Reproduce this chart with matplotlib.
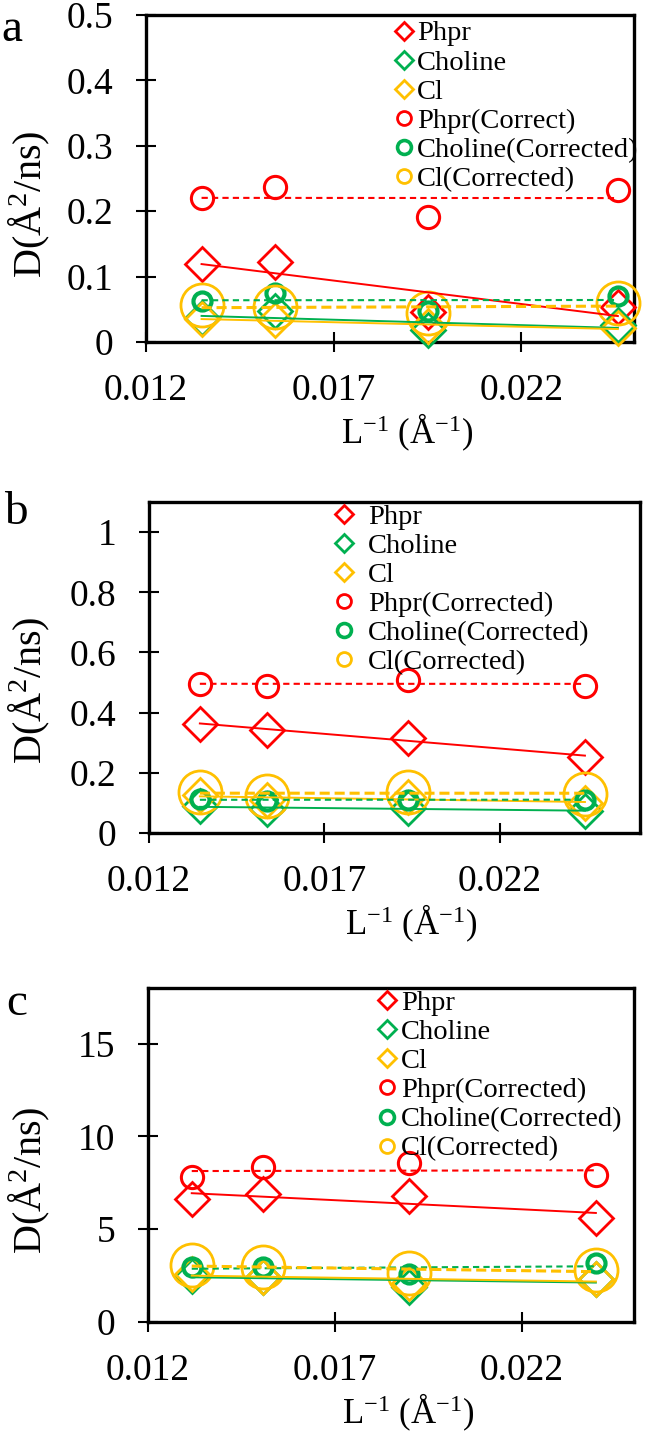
import numpy as np
import matplotlib
matplotlib.use("Agg")
import matplotlib.pyplot as plt
from matplotlib.lines import Line2D
from matplotlib.ticker import FuncFormatter, MultipleLocator

plt.rcParams['font.family'] = ['Liberation Serif', 'DejaVu Serif']
plt.rcParams['mathtext.fontset'] = 'custom'
plt.rcParams['mathtext.rm'] = 'Liberation Serif'
plt.rcParams['mathtext.it'] = 'Liberation Serif:italic'

RED = '#FF0000'
GREEN = '#00B050'
GOLD = '#FFC000'

# ---------------- datos ----------------
# panel a
x_a = [0.01348, 0.01543, 0.01950, 0.02457]
phpr_a = [0.119, 0.122, 0.046, 0.053]
chol_a = [0.036, 0.048, 0.018, 0.026]
cl_a = [0.035, 0.034, 0.024, 0.021]
phpr_c_a = [0.220, 0.237, 0.191, 0.233]
chol_c_a = [0.062, 0.075, 0.048, 0.071]
cl_c_a = [0.056, 0.054, 0.044, 0.060]

# panel b
x_b = [0.01345, 0.01536, 0.01938, 0.02443]
phpr_b = [0.362, 0.342, 0.317, 0.252]
chol_b = [0.090, 0.080, 0.082, 0.074]
cl_b = [0.125, 0.110, 0.120, 0.100]
phpr_c_b = [0.495, 0.490, 0.508, 0.490]
chol_c_b = [0.113, 0.107, 0.111, 0.111]
cl_c_b = [0.137, 0.124, 0.137, 0.131]

# panel c
x_c = [0.01317, 0.01508, 0.01899, 0.02398]
phpr_c = [6.61, 6.92, 6.79, 5.62]
chol_c = [2.50, 2.45, 1.90, 2.30]
cl_c = [2.60, 2.45, 2.10, 2.30]
phpr_c_c = [7.79, 8.33, 8.57, 7.92]
chol_c_c = [2.95, 2.99, 2.60, 3.17]
cl_c_c = [3.08, 2.99, 2.66, 2.81]

labels_a = ['Phpr', 'Choline', 'Cl', 'Phpr(Correct)', 'Choline(Corrected)', 'Cl(Corrected)']
labels_bc = ['Phpr', 'Choline', 'Cl', 'Phpr(Corrected)', 'Choline(Corrected)', 'Cl(Corrected)']

xticks = [0.012, 0.017, 0.022]

paneles = [
    dict(x=x_a, ys=[phpr_a, chol_a, cl_a, phpr_c_a, chol_c_a, cl_c_a], labels=labels_a,
         pos=[146, 15, 634, 342], xlim=(0.012, 0.025), ylim=(0, 0.5), ystep=0.1,
         letra='a', letra_xy=(12, 30), ylab_x=-0.193, ylab_y=0.42,
         leg_x=0.511, leg_y=0.983, leg_pad=0.16),
    dict(x=x_b, ys=[phpr_b, chol_b, cl_b, phpr_c_b, chol_c_b, cl_c_b], labels=labels_bc,
         pos=[149, 502, 640, 833], xlim=(0.012, 0.026), ylim=(0, 1.1), ystep=0.2,
         letra='b', letra_xy=(16, 513), ylab_x=-0.198, ylab_y=0.43,
         leg_x=0.380, leg_y=0.994, leg_pad=0.54),
    dict(x=x_c, ys=[phpr_c, chol_c, cl_c, phpr_c_c, chol_c_c, cl_c_c], labels=labels_bc,
         pos=[148, 988, 634, 1322], xlim=(0.012, 0.025), ylim=(0, 18), ystep=5,
         letra='c', letra_xy=(17, 1004), ylab_x=-0.198, ylab_y=0.425,
         leg_x=0.474, leg_y=0.993, leg_pad=0.19),
]

# estilo de cada serie: marcador, color, tamaño, grosor borde, linea de tendencia
estilos = [
    dict(m='D', c=RED, ms=17, mew=2.0, ls='-', lw=1.4, dash=None),
    dict(m='D', c=GREEN, ms=17, mew=2.0, ls='-', lw=1.4, dash=None),
    dict(m='D', c=GOLD, ms=17, mew=2.0, ls='-', lw=1.4, dash=None),
    dict(m='o', c=RED, ms=16, mew=2.2, ls='--', lw=1.5, dash=(3, 2)),
    dict(m='o', c=GREEN, ms=13, mew=3.0, ls='--', lw=1.5, dash=(3, 2)),
    dict(m='o', c=GOLD, ms=31, mew=2.0, ls='--', lw=2.2, dash=(3.3, 1.6)),
]

W, H = 645, 1433
fig = plt.figure(figsize=(W / 100, H / 100), dpi=100)

for p in paneles:
    l, t, r, b = p['pos']
    ax = fig.add_axes([l / W, 1 - b / H, (r - l) / W, (b - t) / H])
    x = np.array(p['x'])

    for y, e in zip(p['ys'], estilos):
        ax.plot(x, y, ls='none', marker=e['m'], ms=e['ms'], mfc='none',
                mec=e['c'], mew=e['mew'], zorder=3, clip_on=False)
    # lineas de tendencia (ajuste lineal)
    for y, e in zip(p['ys'], estilos):
        k, c0 = np.polyfit(x, y, 1)
        xx = np.array([x[0], x[-1]])
        ln, = ax.plot(xx, k * xx + c0, color=e['c'], lw=e['lw'], ls=e['ls'], zorder=4)
        if e['dash'] is not None:
            ln.set_dashes(e['dash'])

    ax.set_xlim(*p['xlim'])
    ax.set_ylim(*p['ylim'])
    ax.set_xticks(xticks)
    ax.yaxis.set_major_locator(MultipleLocator(p['ystep']))
    fmt = FuncFormatter(lambda v, pos: '%g' % round(v, 6))
    ax.xaxis.set_major_formatter(fmt)
    ax.yaxis.set_major_formatter(fmt)
    ax.tick_params(axis='both', direction='inout', length=15, width=1.5,
                   labelsize=27, color='black')
    ax.tick_params(axis='y', pad=16)
    ax.tick_params(axis='x', pad=15.5)
    for s in ax.spines.values():
        s.set_linewidth(2.4)

    ax.set_ylabel(r'D(Å$^{2}$/ns)', fontsize=29)
    ax.yaxis.set_label_coords(p['ylab_x'], p['ylab_y'])
    ax.set_xlabel(r'L$^{-1}$ (Å$^{-1}$)', fontsize=25)
    ax.xaxis.set_label_coords(0.535, -70 / (b - t))

    handles = []
    for e in estilos:
        if e['m'] == 'D':
            handles.append(Line2D([], [], ls='none', marker='D', ms=9, mfc='none',
                                  mec=e['c'], mew=2.0))
        else:
            handles.append(Line2D([], [], ls='none', marker='o', ms=10, mfc='none',
                                  mec=e['c'], mew=2.6 if e['c'] == GREEN else 2.0))
    ax.legend(handles, p['labels'], loc='upper left',
              bbox_to_anchor=(p['leg_x'], p['leg_y']), frameon=False,
              fontsize=20.5, borderpad=0, borderaxespad=0, handlelength=0.6,
              handletextpad=p['leg_pad'], labelspacing=0.11)

    fig.text(p['letra_xy'][0] / W, 1 - p['letra_xy'][1] / H, p['letra'],
             fontsize=34, ha='center', va='center')

fig.savefig('out.png', dpi=100)
